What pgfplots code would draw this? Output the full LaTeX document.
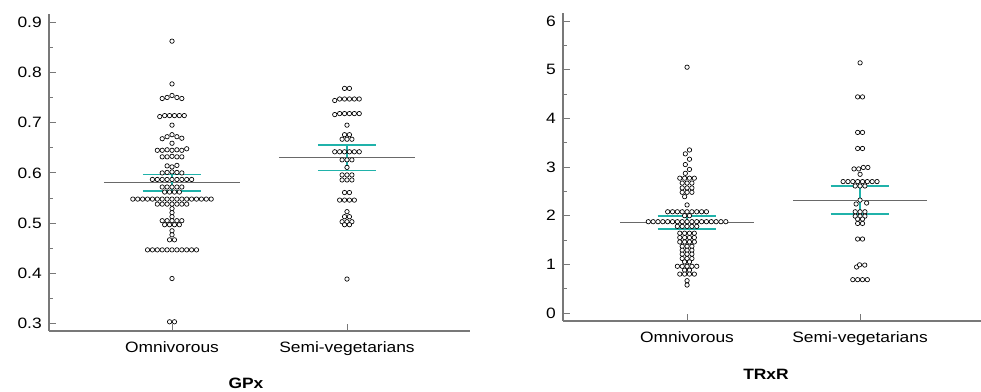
\documentclass[border=0pt]{standalone}
\usepackage{fontspec}
\setmainfont[FakeStretch=1.16]{Liberation Sans}
\usepackage{pgfplots}
\pgfplotsset{compat=1.18}
\definecolor{cyanci}{RGB}{32,178,170}
\definecolor{axgray}{RGB}{120,120,120}
\definecolor{meangray}{RGB}{105,105,105}
\pgfplotsset{dotaxis/.style={
  scale only axis,
  axis x line*=bottom, axis y line*=left,
  axis line style={axgray, line width=1.2pt},
  every tick/.style={axgray, line width=0.7pt},
  tick align=inside,
  major tick length=5.6pt, minor tick length=3.2pt,
  xtick={0,1}, xticklabels={Omnivorous,Semi-vegetarians},
  minor x tick num=0, minor y tick num=1,
  x tick label style={yshift=-4pt},
  y tick label style={xshift=-1.5pt},
  clip=false,
  /pgf/number format/assume math mode=true,
},
dots/.style={only marks, mark=*, mark size=1.65pt,
  mark options={fill=white, draw=black, line width=0.5pt}},
meanl/.style={meangray, line width=0.75pt, no marks},
cil/.style={cyanci, line width=1.2pt, no marks}}
\begin{document}
\fontsize{11.25}{13}\selectfont
\begin{tikzpicture}
\useasboundingbox (0,0) rectangle (735.75pt,294pt);
% ---------------- GPx ----------------
\begin{axis}[dotaxis,
  at={(36.75pt,45.75pt)}, anchor=south west,
  width=315.75pt, height=237.75pt,
  xmin=-0.703, xmax=1.703, ymin=0.2857, ymax=0.916,
  ytick={0.3,0.4,0.5,0.6,0.7,0.8,0.9},
  yticklabel style={/pgf/number format/fixed,/pgf/number format/precision=1,/pgf/number format/fixed zerofill}]
\addplot[meanl] coordinates {(-0.389,0.580) (0.389,0.580)};
\addplot[cil] coordinates {(-0.166,0.597) (0.166,0.597)};
\addplot[cil] coordinates {(-0.166,0.564) (0.166,0.564)};
\addplot[cil] coordinates {(0,0.564) (0,0.597)};
\addplot[meanl] coordinates {(0.611,0.631) (1.389,0.631)};
\addplot[cil] coordinates {(0.834,0.656) (1.166,0.656)};
\addplot[cil] coordinates {(0.834,0.605) (1.166,0.605)};
\addplot[cil] coordinates {(1,0.605) (1,0.656)};
% Omnivorous
\addplot[dots] coordinates {
(0,0.862) (0,0.777)
(-0.056,0.748) (-0.028,0.750) (0,0.754) (0.028,0.750) (0.056,0.748)
(-0.070,0.712) (-0.042,0.714) (-0.014,0.714) (0.014,0.714) (0.042,0.714) (0.070,0.714)
(0,0.695)
(-0.056,0.668) (-0.028,0.672) (0,0.676) (0.028,0.672) (0.056,0.669)
(0,0.659)
(-0.084,0.645) (-0.056,0.645) (-0.028,0.646) (0,0.645) (0.028,0.646) (0.056,0.645) (0.084,0.648)
(-0.056,0.632) (-0.028,0.632) (0,0.633) (0.028,0.632) (0.056,0.632)
(-0.028,0.614) (0,0.612) (0.028,0.615)
(-0.056,0.600) (-0.028,0.601) (0,0.602) (0.028,0.601) (0.056,0.600)
(-0.112,0.587) (-0.084,0.587) (-0.056,0.587) (-0.028,0.587) (0,0.587) (0.028,0.587) (0.056,0.587) (0.084,0.587) (0.112,0.587)
(-0.056,0.572) (-0.028,0.572) (0,0.572) (0.028,0.572) (0.056,0.572)
(-0.042,0.562) (-0.014,0.562) (0.014,0.562) (0.042,0.562)
(-0.224,0.548) (-0.196,0.548) (-0.168,0.548) (-0.140,0.548) (-0.112,0.548) (-0.084,0.548) (-0.056,0.548) (-0.028,0.548) (0,0.548) (0.028,0.548) (0.056,0.548) (0.084,0.548) (0.112,0.548) (0.140,0.548) (0.168,0.548) (0.196,0.548) (0.224,0.548)
(-0.084,0.538) (-0.056,0.538) (-0.028,0.538) (0,0.538) (0.028,0.538) (0.056,0.538) (0.084,0.538)
(0,0.529) (0,0.521) (0,0.513)
(-0.056,0.505) (-0.028,0.505) (0,0.505) (0.028,0.505) (0.056,0.505)
(-0.042,0.497) (-0.014,0.497) (0.014,0.497) (0.042,0.497)
(0,0.485) (0,0.477)
(-0.014,0.467) (0.014,0.467)
(-0.140,0.447) (-0.112,0.447) (-0.084,0.447) (-0.056,0.447) (-0.028,0.447) (0,0.447) (0.028,0.447) (0.056,0.447) (0.084,0.447) (0.112,0.447) (0.140,0.447)
(0,0.390)
(-0.014,0.304) (0.014,0.304)
};
% Semi-vegetarians
\addplot[dots] coordinates {
(0.986,0.768) (1.014,0.768)
(0.930,0.744) (0.958,0.747) (0.986,0.747) (1.014,0.747) (1.042,0.747) (1.070,0.747)
(0.930,0.716) (0.958,0.718) (0.986,0.718) (1.014,0.718) (1.042,0.718) (1.070,0.718)
(1,0.695)
(0.986,0.676) (1.014,0.676)
(0.972,0.667) (1.000,0.667) (1.028,0.667)
(0.930,0.642) (0.958,0.642) (0.986,0.642) (1.014,0.642) (1.042,0.642) (1.070,0.642)
(0.972,0.626) (1.000,0.626) (1.028,0.626)
(1,0.611)
(0.972,0.596) (1.000,0.596) (1.028,0.596)
(0.972,0.586) (1.000,0.586) (1.028,0.586)
(0.986,0.561) (1.014,0.561)
(0.958,0.546) (0.986,0.546) (1.014,0.546) (1.042,0.546)
(1,0.523)
(0.986,0.513) (1.014,0.513)
(0.972,0.503) (1.000,0.503) (1.028,0.503)
(0.986,0.497) (1.014,0.497)
(1,0.389)
};
\end{axis}
% ---------------- TRxR ----------------
\begin{axis}[dotaxis,
  at={(422.25pt,53.25pt)}, anchor=south west,
  width=313.5pt, height=231pt,
  xmin=-0.717, xmax=1.699, ymin=-0.164, ymax=6.164,
  ytick={0,1,2,3,4,5,6}]
\addplot[meanl] coordinates {(-0.387,1.865) (0.387,1.865)};
\addplot[cil] coordinates {(-0.17,1.993) (0.17,1.993)};
\addplot[cil] coordinates {(-0.17,1.726) (0.17,1.726)};
\addplot[cil] coordinates {(0,1.726) (0,1.993)};
\addplot[meanl] coordinates {(0.613,2.315) (1.387,2.315)};
\addplot[cil] coordinates {(0.83,2.61) (1.17,2.61)};
\addplot[cil] coordinates {(0.83,2.04) (1.17,2.04)};
\addplot[cil] coordinates {(1,2.04) (1,2.61)};
% Omnivorous
\addplot[dots] coordinates {
(0,5.05)
(0.014,3.35) (-0.010,3.27) (0.014,3.16) (-0.010,3.05) (0.014,2.95) (-0.010,2.87)
(-0.042,2.77) (-0.014,2.77) (0.014,2.77) (0.042,2.77)
(-0.028,2.67) (0,2.67) (0.028,2.67)
(-0.028,2.57) (0,2.57) (0.028,2.57)
(-0.028,2.48) (0,2.48) (0.028,2.48)
(-0.014,2.39)
(0,2.22)
(-0.112,2.08) (-0.084,2.08) (-0.056,2.08) (-0.028,2.08) (0,2.08) (0.028,2.08) (0.056,2.08) (0.084,2.08) (0.112,2.08)
(-0.014,2.00) (0.014,2.00)
(-0.224,1.876) (-0.196,1.876) (-0.168,1.876) (-0.140,1.876) (-0.112,1.876) (-0.084,1.876) (-0.056,1.876) (-0.028,1.876) (0,1.876) (0.028,1.876) (0.056,1.876) (0.084,1.876) (0.112,1.876) (0.140,1.876) (0.168,1.876) (0.196,1.876) (0.224,1.876)
(-0.056,1.78) (-0.028,1.78) (0,1.78) (0.028,1.78) (0.056,1.78)
(-0.042,1.64) (-0.014,1.64) (0.014,1.64) (0.042,1.64)
(-0.042,1.55) (-0.014,1.55) (0.014,1.55) (0.042,1.55)
(-0.042,1.46) (-0.014,1.46) (0.014,1.46) (0.042,1.46)
(-0.028,1.37) (0,1.37) (0.028,1.37)
(-0.028,1.29) (0,1.29) (0.028,1.29)
(-0.028,1.21) (0,1.21) (0.028,1.21)
(-0.028,1.12) (0,1.12) (0.028,1.12)
(-0.014,1.05) (0.014,1.05)
(-0.056,0.96) (-0.028,0.96) (0,0.96) (0.028,0.96) (0.056,0.96)
(-0.014,0.88) (0.014,0.88)
(-0.042,0.80) (-0.014,0.80) (0.014,0.80) (0.042,0.80)
(0,0.664) (0,0.575)
};
% Semi-vegetarians
\addplot[dots] coordinates {
(1,5.14)
(0.986,4.44) (1.014,4.44)
(0.986,3.71) (1.014,3.71)
(0.986,3.38) (1.014,3.38)
(0.965,2.96) (0.992,2.96) (1.019,2.99) (1.045,2.99)
(1,2.85)
(0.902,2.70) (0.930,2.70) (0.958,2.70) (0.986,2.70) (1.014,2.70) (1.042,2.70) (1.070,2.70) (1.098,2.70)
(0.972,2.61) (1.000,2.61) (1.028,2.61)
(1,2.32)
(0.977,2.24) (1.038,2.26)
(0.972,2.08) (1.000,2.08) (1.028,2.08)
(0.972,1.99) (1.000,1.99) (1.028,1.99)
(0.986,1.93) (1.014,1.93)
(0.986,1.84) (1.014,1.84)
(0.986,1.52) (1.014,1.52)
(0.980,0.945) (0.997,0.99) (1.027,0.985)
(0.958,0.685) (0.986,0.685) (1.014,0.685) (1.042,0.685)
};
\end{axis}
\node[font=\bfseries] at (184.5pt,6.75pt) {GPx};
\node[font=\bfseries] at (574.5pt,13.5pt) {TRxR};
\end{tikzpicture}
\end{document}
